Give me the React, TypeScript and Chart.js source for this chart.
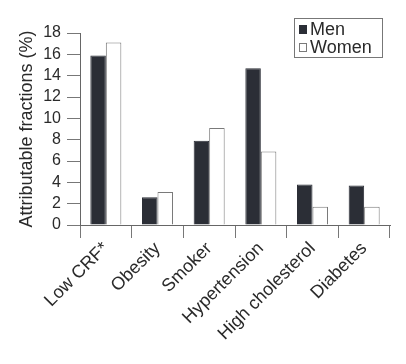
import React, { useEffect, useRef } from "react";
import { Chart, registerables } from "chart.js";

Chart.register(...registerables);

const categories = ["Low CRF*", "Obesity", "Smoker", "Hypertension", "High cholesterol", "Diabetes"];
const menValues = [15.9, 2.6, 7.9, 14.7, 3.8, 3.7];
const womenValues = [17.1, 3.1, 9.1, 6.9, 1.7, 1.7];
const seriesLabels = ["Men", "Women"];
const yTitle = "Attributable fractions (%)";

const FONT = "'Liberation Sans', Arial, sans-serif";

const legendPlugin = {
  id: "boxLegend",
  afterDraw(chart: any) {
    const ctx = chart.ctx;
    const x = 294, y = 18, w = 88, h = 39;
    ctx.save();
    ctx.fillStyle = "#fff";
    ctx.fillRect(x, y, w, h);
    ctx.strokeStyle = "#777";
    ctx.lineWidth = 1;
    ctx.strokeRect(x + 0.5, y + 0.5, w, h);
    ctx.font = `18px ${FONT}`;
    ctx.textBaseline = "middle";
    chart.data.datasets.forEach((ds: any, i: number) => {
      const cy = y + 11 + i * 18;
      ctx.fillStyle = ds.backgroundColor;
      ctx.fillRect(x + 5, cy - 4, 8, 9);
      ctx.strokeStyle = ds.borderColor;
      ctx.strokeRect(x + 5.5, cy - 3.5, 7, 8);
      ctx.fillStyle = "#2a2a2a";
      ctx.fillText(ds.label, x + 16, cy + 1);
    });
    ctx.restore();
  },
};

export default function App() {
  const ref = useRef<HTMLCanvasElement>(null);
  useEffect(() => {
    if (!ref.current) return;
    const chart = new Chart(ref.current, {
      type: "bar",
      data: {
        labels: categories,
        datasets: [
          {
            label: seriesLabels[0],
            data: menValues,
            backgroundColor: "#2b2e36",
            borderColor: "#2b2e36",
            borderWidth: 1,
            barPercentage: 1,
            categoryPercentage: 0.6,
          },
          {
            label: seriesLabels[1],
            data: womenValues,
            backgroundColor: "#ffffff",
            borderColor: "#7a7a7a",
            borderWidth: { top: 1, left: 1, right: 1, bottom: 0 },
            barPercentage: 1,
            categoryPercentage: 0.6,
          },
        ],
      },
      options: {
        animation: false,
        responsive: true,
        maintainAspectRatio: false,
        layout: { padding: { top: 33, right: 16, left: 0, bottom: 0 } },
        plugins: { legend: { display: false }, tooltip: { enabled: false } },
        scales: {
          x: {
            grid: {
              offset: true,
              drawOnChartArea: false,
              drawTicks: true,
              tickLength: 13,
              color: "#777",
            },
            border: { display: true, color: "#666", width: 1 },
            ticks: {
              maxRotation: 45,
              minRotation: 45,
              autoSkip: false,
              padding: 0,
              color: "#2a2a2a",
              font: { family: FONT, size: 18 },
            },
            afterFit(scale: any) {
              scale.height = 139;
              scale.paddingLeft = 0;
              scale.paddingRight = 0;
            },
          },
          y: {
            min: 0,
            max: 18,
            ticks: {
              stepSize: 2,
              autoSkip: false,
              padding: 6,
              color: "#2a2a2a",
              font: { family: FONT, size: 16 },
            },
            grid: {
              drawOnChartArea: false,
              drawTicks: true,
              tickLength: 13,
              color: "#777",
            },
            border: { display: true, color: "#666", width: 1 },
            title: {
              display: true,
              text: yTitle,
              color: "#2a2a2a",
              font: { family: FONT, size: 18 },
              padding: { top: 16, bottom: 0 },
            },
            afterFit(scale: any) {
              scale.width = 80;
            },
          },
        },
      },
      plugins: [legendPlugin],
    });
    return () => chart.destroy();
  }, []);
  return (
    <div style={{ position: "fixed", left: 0, top: 0, width: 406, height: 364, background: "#fff" }}>
      <canvas ref={ref} />
    </div>
  );
}
